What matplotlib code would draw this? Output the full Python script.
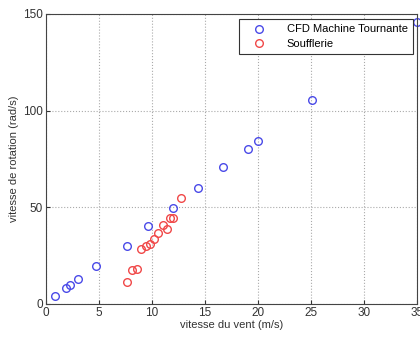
import matplotlib
matplotlib.use("Agg")
import matplotlib.pyplot as plt

plt.rcParams['font.family'] = ['Liberation Sans', 'DejaVu Sans']

# CFD Machine Tournante
cfd_vent = [0.85, 1.85, 2.3, 3.0, 4.75, 7.65, 9.6, 11.95, 14.3, 16.7, 19.1, 20.0, 25.1, 35.0]
cfd_rot = [4.3, 8.1, 9.8, 12.8, 19.7, 30.0, 40.3, 49.5, 59.8, 71.0, 80.0, 84.2, 105.5, 146.0]

# Soufflerie
souf_vent = [7.6, 8.1, 8.55, 9.0, 9.45, 9.8, 10.2, 10.6, 11.0, 11.4, 11.7, 12.0, 12.7]
souf_rot = [11.2, 17.4, 17.9, 28.4, 30.0, 30.9, 33.6, 36.6, 40.9, 38.6, 44.3, 44.3, 54.7]

xticks = [0, 5, 10, 15, 20, 25, 30, 35]
yticks = [0, 50, 100, 150]

fig = plt.figure(figsize=(4.2, 3.38), dpi=100)
ax = fig.add_axes([0.1095, 0.1006, 0.883, 0.858])

ax.plot(cfd_vent, cfd_rot, 'o', mfc='none', mec='#4a4ae8', mew=1.0, ms=5.5,
        label='CFD Machine Tournante', clip_on=False)
ax.plot(souf_vent, souf_rot, 'o', mfc='none', mec='#f04848', mew=1.0, ms=5.5,
        label='Soufflerie', clip_on=False)

ax.set_xlim(0, 35)
ax.set_ylim(0, 150)
ax.set_xticks(xticks)
ax.set_yticks(yticks)
ax.grid(True, linestyle=':', color='#aaaaaa', linewidth=0.8)
ax.tick_params(direction='in', length=3, labelsize=8.5, colors='#333333', pad=2)
for s in ax.spines.values():
    s.set_color('#444444')
    s.set_linewidth(0.8)

ax.set_xlabel('vitesse du vent (m/s)', fontsize=8, color='#333333', labelpad=1)
ax.set_ylabel('vitesse de rotation (rad/s)', fontsize=8, color='#333333', labelpad=3)

leg = ax.legend(loc='upper right', fontsize=8, fancybox=False, framealpha=1,
                edgecolor='#333333', borderpad=0.5, handletextpad=1.2,
                handlelength=2.6, labelspacing=0.4, borderaxespad=0,
                bbox_to_anchor=(0.99, 0.983))
leg.get_frame().set_linewidth(0.8)

fig.savefig('out.png', dpi=100)
